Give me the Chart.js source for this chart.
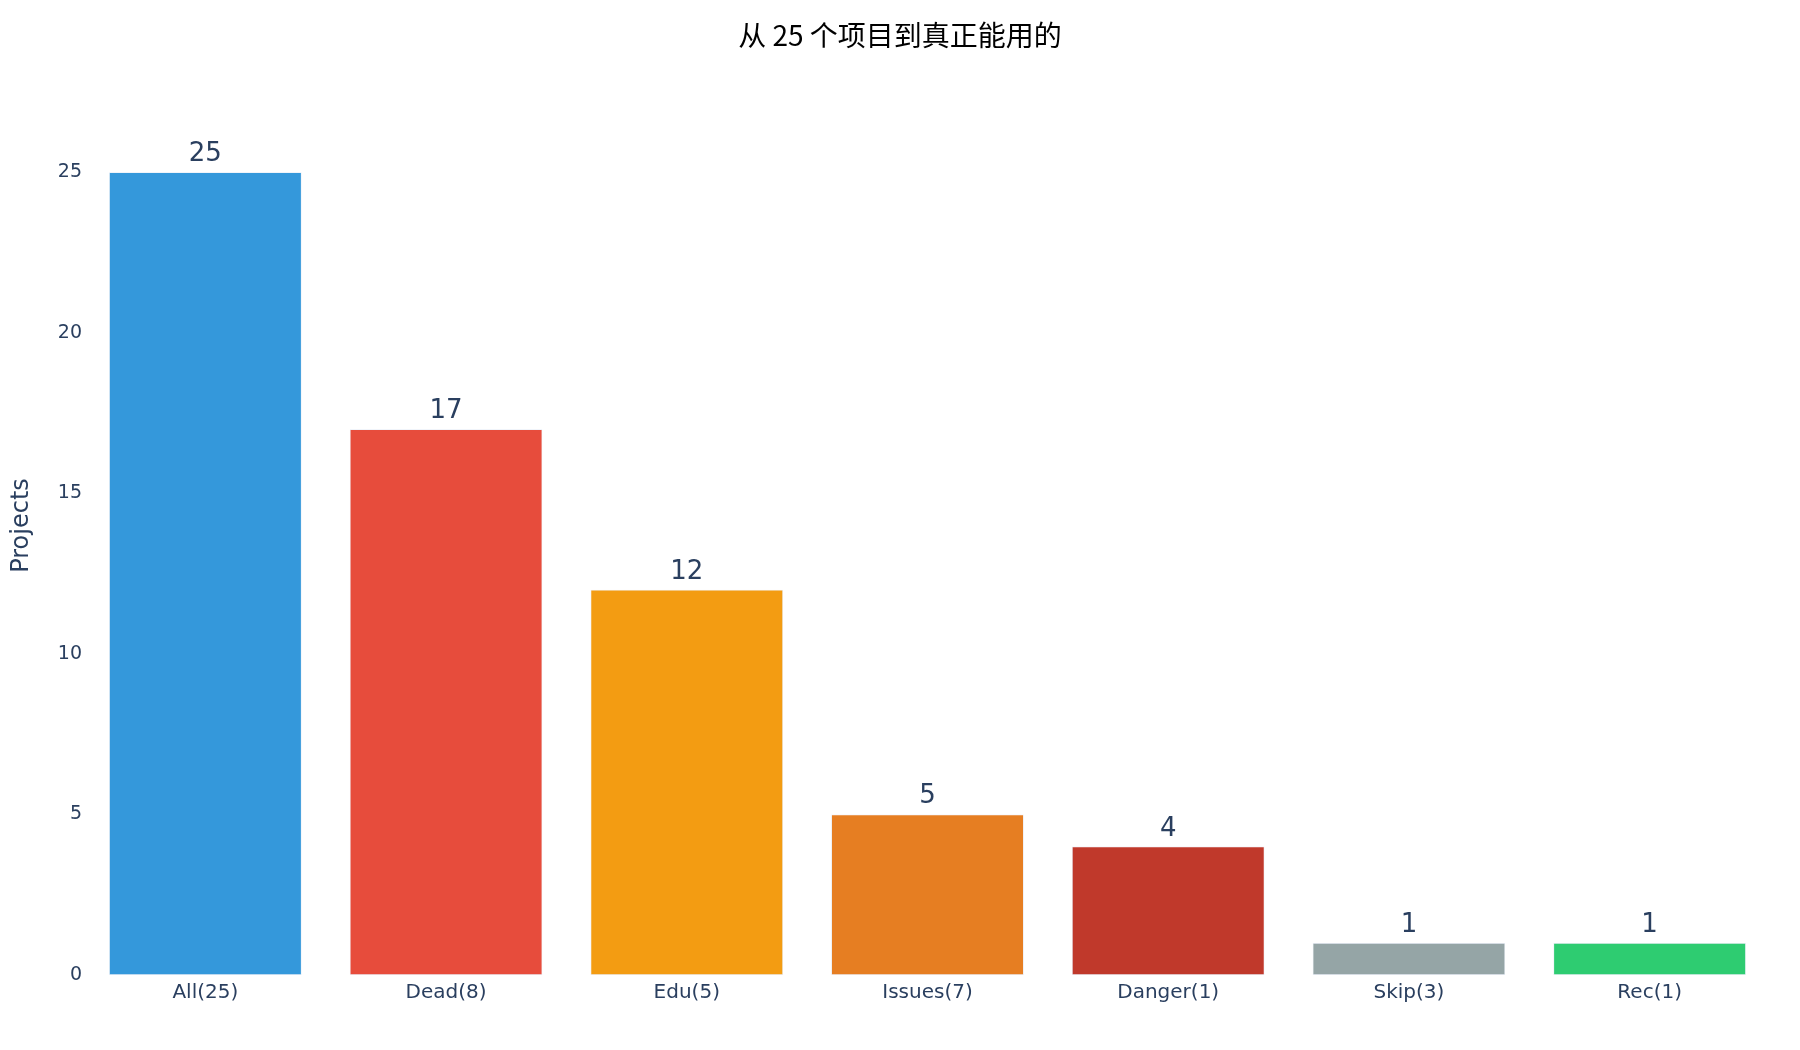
<!DOCTYPE html>
<html>
<head>
<meta charset="utf-8">
<script src="https://cdn.jsdelivr.net/npm/chart.js@4.4.1/dist/chart.umd.min.js"></script>
<style>
  body { margin: 0; background: #fff; }
</style>
</head>
<body>
<canvas id="myChart" width="1800" height="1050"></canvas>
<script>
const ctx = document.getElementById('myChart').getContext('2d');

// Datos del gráfico
const categories = ['All(25)', 'Dead(8)', 'Edu(5)', 'Issues(7)', 'Danger(1)', 'Skip(3)', 'Rec(1)'];
const values = [25, 17, 12, 5, 4, 1, 1];
const barColors = ['#3498db', '#e74c3c', '#f39c12', '#e67e22', '#c0392b', '#95a5a6', '#2ecc71'];
const yTicks = [0, 5, 10, 15, 20, 25];
const chartTitle = '从 25 个项目到真正能用的';

const textColor = '#2a3f5f';

// Título centrado en el lienzo y etiquetas de valor encima de cada barra
const valueLabels = {
    id: 'valueLabels',
    afterDatasetsDraw(chart) {
        const c = chart.ctx;
        const meta = chart.getDatasetMeta(0);
        c.save();
        c.font = '26px "DejaVu Sans"';
        c.fillStyle = textColor;
        c.textAlign = 'center';
        c.textBaseline = 'alphabetic';
        meta.data.forEach((bar, i) => {
            c.fillText(String(values[i]), bar.x, bar.y - 11);
        });
        c.font = '28px "Noto Sans CJK SC"';
        c.fillStyle = '#000';
        c.textBaseline = 'middle';
        c.fillText(chartTitle, chart.width / 2, 35);
        c.restore();
    }
};

const myChart = new Chart(ctx, {
    type: 'bar',
    data: {
        labels: categories,
        datasets: [{
            label: 'Projects',
            data: values,
            backgroundColor: barColors,
            borderColor: '#E5ECF6',
            borderWidth: 0.75,
            borderSkipped: false,
            barPercentage: 0.8,
            categoryPercentage: 1.0
        }]
    },
    options: {
        responsive: false,
        devicePixelRatio: 1,
        animation: false,
        layout: { padding: { left: 0, right: 30, top: 76, bottom: 0 } },
        plugins: {
            legend: { display: false },
            tooltip: { enabled: false },
            title: { display: false }
        },
        scales: {
            x: {
                grid: { display: false, drawTicks: false },
                border: { display: false },
                ticks: {
                    color: textColor,
                    font: { family: '"DejaVu Sans"', size: 20 },
                    padding: 6
                },
                afterFit(scale) { scale.height = 75; }
            },
            y: {
                min: 0,
                max: 28,
                grid: { display: false, drawTicks: false },
                border: { display: false },
                afterBuildTicks(scale) {
                    scale.ticks = yTicks.map(v => ({ value: v }));
                },
                ticks: {
                    color: textColor,
                    font: { family: '"DejaVu Sans"', size: 19 },
                    padding: 3
                },
                title: {
                    display: true,
                    text: 'Projects',
                    color: textColor,
                    font: { family: '"DejaVu Sans"', size: 24 },
                    padding: { top: 7, bottom: 0 }
                },
                afterFit(scale) { scale.width = 85; }
            }
        }
    },
    plugins: [valueLabels]
});
</script>
</body>
</html>
